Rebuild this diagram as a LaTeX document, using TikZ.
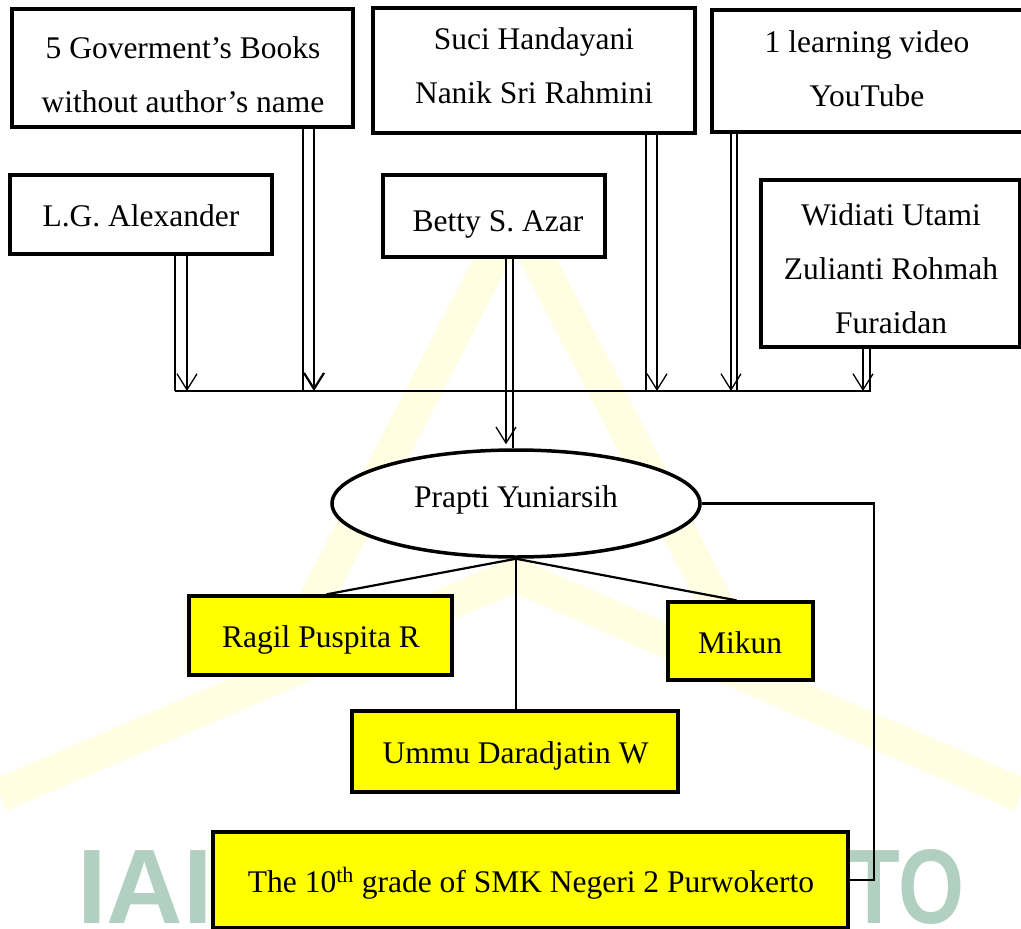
\documentclass[tikz,border=0pt]{standalone}
\usepackage{fontspec}
\setmainfont{Liberation Serif}
\newfontfamily\wmfont{Liberation Sans}
\usetikzlibrary{calc,arrows.meta,shapes.geometric}
\definecolor{boxyellow}{HTML}{FFFF00}
\definecolor{wmyellow}{HTML}{FFF200}
\definecolor{wmgreen}{HTML}{B2D0C2}
\tikzset{
  srcbox/.style={draw=black, line width=3.3pt, fill=white, inner sep=0pt},
  namebox/.style={draw=black, line width=3.3pt, fill=boxyellow, inner sep=0pt},
  rootell/.style={ellipse, draw=black, line width=3.5pt, fill=white, inner sep=0pt},
  lab/.style={font=\fontsize{31.5}{54}\selectfont, align=center, inner sep=0pt},
  feed/.style={line width=2pt},
  feedtip/.style={line width=1.3pt, -{Straight Barb[length=16pt,width=20pt]}},
  link/.style={line width=2.2pt},
  wmband/.style={draw=wmyellow, line width=34pt, opacity=0.11},
  wmtext/.style={font=\wmfont\bfseries\fontsize{106}{106}\selectfont, text=wmgreen, inner sep=0pt}
}

\begin{document}
\begin{tikzpicture}[x=1pt,y=-1pt]
  \useasboundingbox (0,0) rectangle (1021,929);

  % watermark
  \draw[wmband] (300,630) -- (515,215) -- (730,630);
  \draw[wmband] (0,795) -- (515,575) -- (1021,795);
  \node[wmtext, anchor=base west] (wmA) at (77,923) {IAIN};
  \node[wmtext, anchor=base east, xscale=0.8] (wmB) at (965,923) {PURWOKERTO};

  % sources
  \node[srcbox, minimum width=341pt, minimum height=118pt] (gov) at (182.5,68) {};
  \node[srcbox, minimum width=322pt, minimum height=125pt] (suci) at (534,70.5) {};
  \node[srcbox, minimum width=312pt, minimum height=122pt] (yt) at (868,71) {};
  \node[srcbox, minimum width=262pt, minimum height=79pt] (lga) at (141,214.5) {};
  \node[srcbox, minimum width=222pt, minimum height=82pt] (azar) at (494,216) {};
  \node[srcbox, minimum width=259pt, minimum height=167pt] (wid) at (890.5,263.5) {};

  \node[lab] (govL) at (183,74.3) {5 Goverment’s Books\\without author’s name};
  \node[lab] (suciL) at (534,65.8) {Suci Handayani\\Nanik Sri Rahmini};
  \node[lab] (ytL) at (867,68.3) {1 learning video\\YouTube};
  \node[lab] (widL) at (891,268.3) {Widiati Utami\\Zulianti Rohmah\\Furaidan};
  \node[lab, anchor=base] (lgaL) at (141,226) {L.G. Alexander};
  \node[lab, anchor=base] (azarL) at (498,231) {Betty S. Azar};

  % teacher and staff
  \node[rootell, minimum width=368pt, minimum height=107pt] (root) at (516,503.5) {};
  \node[namebox, minimum width=263pt, minimum height=79pt] (ragil) at (320.5,635.5) {};
  \node[namebox, minimum width=145pt, minimum height=78pt] (mikun) at (740.5,641) {};
  \node[namebox, minimum width=326pt, minimum height=81pt] (ummu) at (515,751.5) {};
  \node[namebox, minimum width=635pt, minimum height=96pt] (grade) at (530.5,880) {};

  \node[lab, anchor=base] (rootL) at (516,507) {Prapti Yuniarsih};
  \node[lab, anchor=base] (ragilL) at (321,647) {Ragil Puspita R};
  \node[lab, anchor=base] (mikunL) at (740,653) {Mikun};
  \node[lab, anchor=base] (ummuL) at (515.5,763) {Ummu Daradjatin W};
  \node[lab, anchor=base] (gradeL) at (531,892) {The 10\textsuperscript{th} grade of SMK Negeri 2 Purwokerto};

  % collecting line
  \coordinate (busW) at (175,391);
  \coordinate (busE) at (871,391);
  \draw[feed] (busW) -- (busE);

  \draw[feed] (175,0 |- lga.south) -- (175,0 |- busW);
  \draw[feedtip] (187,0 |- lga.south) -- (187,0 |- busW);
  \draw[feed] (303,0 |- gov.south) -- (303,0 |- busW);
  \draw[feedtip, line width=2.2pt] (314,0 |- gov.south) -- (314,0 |- busW);
  \draw[feed] (646,0 |- suci.south) -- (646,0 |- busW);
  \draw[feedtip] (657,0 |- suci.south) -- (657,0 |- busW);
  \draw[feedtip] (731,0 |- yt.south) -- (731,0 |- busW);
  \draw[feed] (737,0 |- yt.south) -- (737,0 |- busW);
  \draw[feedtip] (863,0 |- wid.south) -- (863,0 |- busW);
  \draw[feed] (870,0 |- wid.south) -- (870,0 |- busW);

  \draw[feedtip] (506,0 |- azar.south) -- ($(506,0 |- root.north)+(0,-4)$);
  \draw[feed] (513,0 |- azar.south) -- (513,0 |- root.north);

  % links from the teacher
  \draw[link] (root.south) -- ($(ragil.north)+(6,0)$);
  \draw[link] (root.south) -- ($(mikun.north)+(-4,0)$);
  \draw[link] (root.south) -- (root.south |- ummu.north);
  \draw[link] (root.east) -- ++(172,0) |- (grade.east);
\end{tikzpicture}
\end{document}
